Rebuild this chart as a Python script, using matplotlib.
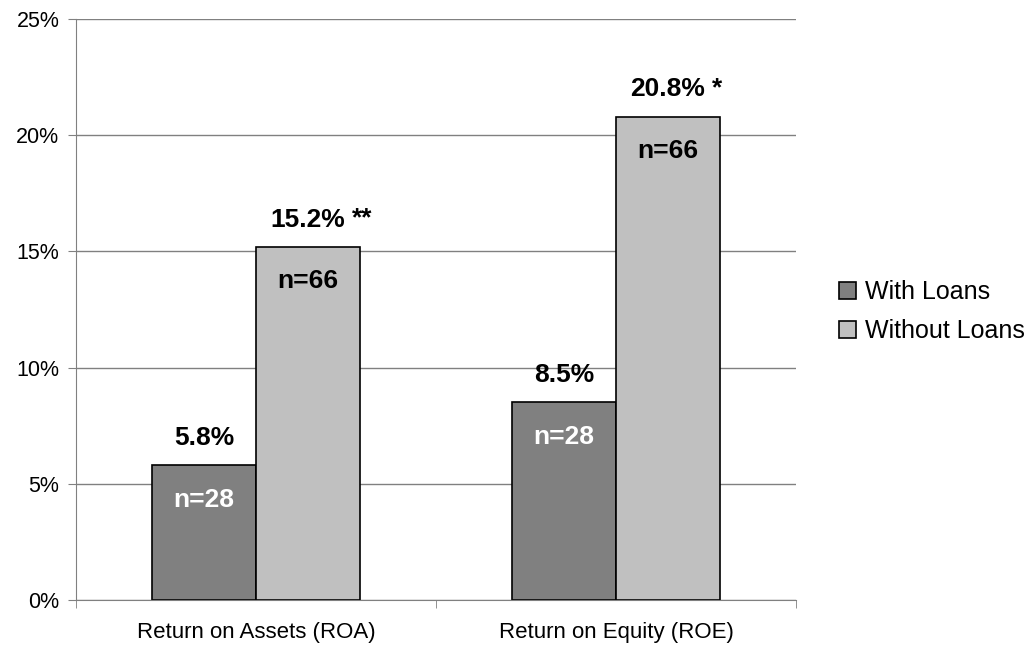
import matplotlib.pyplot as plt
import numpy as np

plt.rcParams['font.family'] = ['Liberation Sans', 'DejaVu Sans']

categories = ['Return on Assets (ROA)', 'Return on Equity (ROE)']
series = ['With Loans', 'Without Loans']
with_loans = [5.8, 8.5]
without_loans = [15.2, 20.8]
n_with = ['n=28', 'n=28']
n_without = ['n=66', 'n=66']
stars = ['**', '*']

fig = plt.figure(figsize=(10.3, 6.48), dpi=100)
ax = fig.add_axes([76 / 1030, 48 / 648, 720 / 1030, 581 / 648])

x = np.arange(len(categories))
w = 0.289
ax.bar(x - w / 2, with_loans, w, color='#808080', edgecolor='black', linewidth=1.2, label=series[0])
ax.bar(x + w / 2, without_loans, w, color='#c0c0c0', edgecolor='black', linewidth=1.2, label=series[1])

for i in range(len(categories)):
    for xi, v, n, col in [(x[i] - w / 2, with_loans[i], n_with[i], 'white'),
                          (x[i] + w / 2, without_loans[i], n_without[i], 'black')]:
        ax.annotate('%.1f%%' % v, (xi, v), xytext=(0, 14.5), textcoords='offset points',
                    ha='center', va='baseline', fontsize=19, fontweight='bold')
        ax.annotate(n, (xi, v), xytext=(0, -30), textcoords='offset points',
                    ha='center', va='baseline', fontsize=19, fontweight='bold', color=col)
    ax.annotate(stars[i], (x[i] + w / 2, without_loans[i]), xytext=(32, 15.5), textcoords='offset points',
                ha='left', va='baseline', fontsize=19, fontweight='bold')

ax.set_xlim(-0.5, 1.5)
ax.set_ylim(0, 25)
ax.set_yticks(range(0, 26, 5))
ax.set_yticklabels(['%d%%' % t for t in range(0, 26, 5)], fontsize=15.5)
ax.set_xticks(x)
ax.set_xticklabels(categories, fontsize=16)
ax.set_xticks([-0.5, 0.5, 1.5], minor=True)
ax.tick_params(axis='x', which='major', length=0, pad=16)
ax.tick_params(axis='x', which='minor', length=6, color='#808080')
ax.tick_params(axis='y', length=6, color='#808080', pad=6)

ax.grid(axis='y', color='#808080', linewidth=1)
ax.set_axisbelow(True)
for s in ['top', 'right']:
    ax.spines[s].set_visible(False)
for s in ['left', 'bottom']:
    ax.spines[s].set_color('#808080')

ax.legend(loc='center left', bbox_to_anchor=(816 / 1030, 1 - 312 / 648), bbox_transform=fig.transFigure,
          frameon=False, fontsize=18, handlelength=0.7, handleheight=0.7, handletextpad=0.35, labelspacing=0.6)

fig.savefig('out.png', dpi=100)
